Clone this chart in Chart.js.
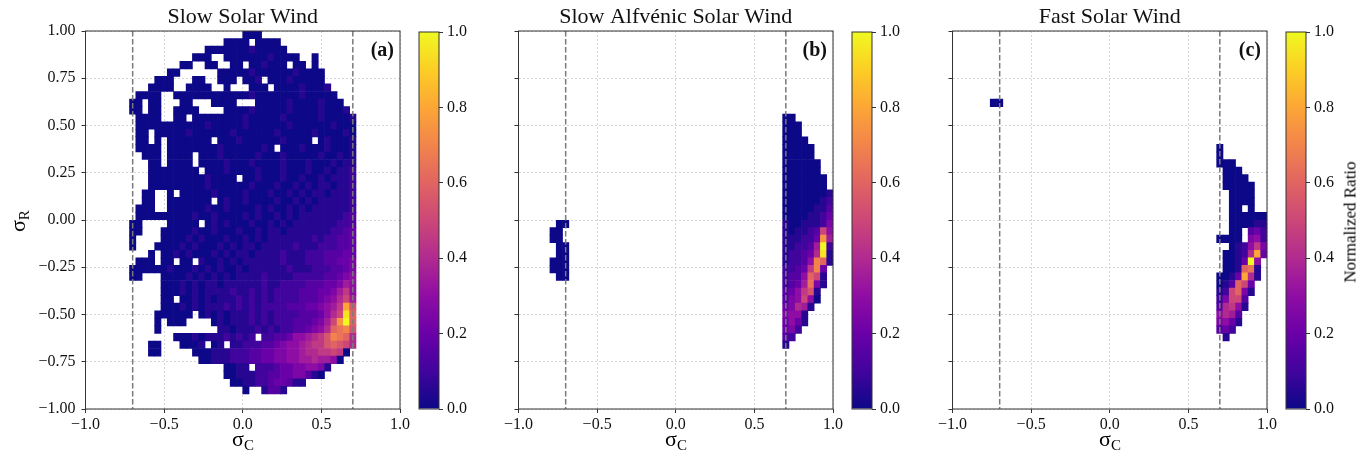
<!DOCTYPE html>
<html>
<head>
<meta charset="utf-8">
<script src="https://cdn.jsdelivr.net/npm/chart.js@4/dist/chart.umd.min.js"></script>
<style>
  body { margin: 0; background: #fff; width: 1368px; height: 457px; position: relative; overflow: hidden; font-family: "Liberation Serif", "DejaVu Serif", serif; color: #000; }
  canvas { position: absolute; left: 0; top: 0; }
  .xl { position: absolute; top: 428px; transform: translateX(-50%); font-size: 22px; line-height: 1; white-space: nowrap; }
  .xl sub, .yl sub { font-size: 15px; vertical-align: baseline; position: relative; top: 4px; }
  .yl { position: absolute; left: 18px; top: 221px; transform: translate(-50%, -50%) rotate(-90deg); font-size: 22px; line-height: 1; white-space: nowrap; }
  .cbl { position: absolute; left: 1350px; top: 222px; transform: translate(-50%, -50%) rotate(-90deg); font-size: 17px; line-height: 1; white-space: nowrap; color: #000; }
</style>
</head>
<body>
<canvas id="pa" width="1368" height="457"></canvas>
<canvas id="pb" width="1368" height="457"></canvas>
<canvas id="pc" width="1368" height="457"></canvas>
<canvas id="ca" width="1368" height="457"></canvas>
<canvas id="cb" width="1368" height="457"></canvas>
<canvas id="cc" width="1368" height="457"></canvas>
<div class="xl" style="left:243px">σ<sub>C</sub></div>
<div class="xl" style="left:676px">σ<sub>C</sub></div>
<div class="xl" style="left:1110px">σ<sub>C</sub></div>
<div class="yl">σ<sub>R</sub></div>
<div class="cbl">Normalized Ratio</div>
<script>
const titles = ["Slow Solar Wind", "Slow Alfvénic Solar Wind", "Fast Solar Wind"];
const panelTags = ["(a)", "(b)", "(c)"];
const xTicks = [-1, -0.5, 0, 0.5, 1];
const yTicks = [-1, -0.75, -0.5, -0.25, 0, 0.25, 0.5, 0.75, 1];
const cbTicks = [0, 0.2, 0.4, 0.6, 0.8, 1];
const cbRange = [0, 1];
const sigmaCut = [-0.7, 0.7];
const binWidth = 0.04;
// one char per bin, step 0.05 of normalized ratio, '.' = empty bin
const levels = "0123456789ABCDEFGHIJK";

// [row from top (y = 1 - 0.04*row), first column (x = -1 + 0.04*col), bins]
const slowRows = [
  [0, 25, "000"],
  [1, 22, "0000.0000"],
  [2, 19, "0000000100000"],
  [3, 17, "000..000000010000..0"],
  [4, 15, "00..00..00.001000.00.0"],
  [5, 13, "00......00000100000010000"],
  [6, 11, "000...00..000.001.000100000"],
  [7, 10, "0000..0000..0...000.000010001"],
  [8, 8, "0000..00000000000010000000100000"],
  [9, 7, "00.00...00...0000...00000100001000"],
  [10, 7, "00.00..0000....00001000001000010001"],
  [11, 8, "0000..00.00000000100000100000100001"],
  [12, 8, "00000000000100000100000010000001000"],
  [13, 8, "00.00000100000010000001000001000010"],
  [14, 8, "00.0.0000000.000100000010000.010001"],
  [15, 8, "0000.00000000100000010.000100010001"],
  [16, 9, "000.0000.0001000001000100000100101"],
  [17, 10, "00.0000.0000100010000100010001011"],
  [18, 10, "00000000.000100001000100010010112"],
  [19, 10, "00000000010000.001000100100101112"],
  [20, 10, "000000000100000010001001010110112"],
  [21, 9, "00..0.0000010000100010010101101112"],
  [22, 9, "00..0000000.0100100001001010111112"],
  [23, 8, "000..000000100100001010010101111112"],
  [24, 8, "00000000010010000101001010111111123"],
  [25, 7, "00....00000.010100010010101111111223"],
  [26, 7, "00...0000010010001001011011111112234"],
  [27, 7, "0....0000101000100101011111112122334"],
  [28, 7, "0...00001010001010110111112111222334"],
  [29, 10, "0.0010100010101101111211122233344"],
  [30, 8, "000.00.00.1001010111111211122233445"],
  [31, 7, "000000100010101001011111121112223345"],
  [32, 7, "00...0000101010101111211112222233456"],
  [33, 12, "0001010110111111211222233344576"],
  [34, 12, "0001010111121121212222333445796"],
  [35, 12, "00.00101011121212122223334568A7"],
  [36, 12, "00010101112121212222333445679GB"],
  [37, 11, "000000.0101011121212222333468AJC"],
  [38, 11, "0.000....0101112121222333457AFKC"],
  [39, 11, "0.........110111212122334568CDEB"],
  [40, 14, "0001011121212.2233466789BEDC8"],
  [41, 10, "00...0001.01.112223345667899BCBA8"],
  [42, 10, "00.....0001112223344556678899A90"],
  [43, 18, "00111222334455667787760"],
  [44, 22, "0011.222344556651"],
  [45, 22, "0011122334455310"],
  [46, 23, "001122344311"],
  [47, 25, "0..1331"]
];

const alfvenicRows = [
  [11, 42, "00"],
  [12, 42, "000"],
  [13, 42, "000"],
  [14, 42, "0000"],
  [15, 42, "00000"],
  [16, 42, "00000"],
  [17, 42, "000000"],
  [18, 42, "000000"],
  [19, 42, "0000000"],
  [20, 42, "0000000"],
  [21, 42, "00000001"],
  [22, 42, "00000012"],
  [23, 42, "00000113"],
  [24, 42, "00001124"],
  [25, 42, "10011125"],
  [26, 42, "101123A6"],
  [27, 42, "111224F7"],
  [28, 42, "112237K2"],
  [29, 42, "122348J1"],
  [30, 42, "12236EC1"],
  [31, 42, "22349E4"],
  [32, 42, "2336CA1"],
  [33, 42, "2347D51"],
  [34, 42, "3469B1"],
  [35, 42, "356A60"],
  [36, 42, "45871"],
  [37, 42, "5661"],
  [38, 42, "4641"],
  [39, 42, "452"],
  [40, 42, "32"],
  [41, 42, "1"],
  [25, 6, "00"],
  [26, 5, "00"],
  [27, 5, "00"],
  [28, 6, "00"],
  [29, 6, "00"],
  [30, 5, "000"],
  [31, 5, "000"],
  [32, 6, "00"]
];

const fastRows = [
  [9, 6, "00"],
  [15, 42, "0"],
  [16, 42, "0"],
  [17, 42, "000"],
  [18, 43, "000"],
  [19, 43, "0000"],
  [20, 43, "00000"],
  [21, 44, "0000"],
  [22, 44, "0000"],
  [23, 44, "00.0"],
  [24, 44, "000000"],
  [25, 44, "000011"],
  [26, 44, "00.342"],
  [27, 42, "0000.562"],
  [28, 44, "012695"],
  [29, 43, "00128G4"],
  [30, 43, "0014K6"],
  [31, 43, "001CD1"],
  [32, 42, "0014G81"],
  [33, 42, "013CA4"],
  [34, 42, "12AC51"],
  [35, 42, "25AA3"],
  [36, 42, "38961"],
  [37, 42, "6873"],
  [38, 42, "5641"],
  [39, 42, "342"],
  [40, 43, "1"]
];

const W = 1368;
const plotLeft = [85.5, 518.5, 952.5];
const plotW = 314.5;
const cbLeft = [419, 852, 1286];
const serif = "'Liberation Serif', 'DejaVu Serif', serif";

const plasmaStops = ["#0d0887", "#41049d", "#6a00a8", "#8f0da4", "#b12a90", "#cc4778",
  "#e16462", "#f2844b", "#fca636", "#fcce25", "#f0f921"];

function hex(c) {
  return [1, 3, 5].map(k => parseInt(c.slice(k, k + 2), 16));
}
function plasma(t) {
  t = Math.max(0, Math.min(1, t));
  const p = t * (plasmaStops.length - 1);
  const k = Math.min(plasmaStops.length - 2, Math.floor(p));
  const f = p - k;
  const a = hex(plasmaStops[k]), b = hex(plasmaStops[k + 1]);
  const m = a.map((v, n) => Math.round(v + (b[n] - v) * f));
  return `rgb(${m[0]},${m[1]},${m[2]})`;
}

function toCells(rows) {
  const out = [];
  rows.forEach(([r, c0, s]) => {
    [...s].forEach((ch, n) => {
      if (ch === ".") return;
      const x0 = -1 + binWidth * (c0 + n);
      const top = 1 - binWidth * r;
      out.push({
        x: +(x0 + binWidth / 2).toFixed(3),
        y: [+(top - binWidth).toFixed(3), +top.toFixed(3)],
        v: levels.indexOf(ch) * 0.05
      });
    });
  });
  return out;
}

const fmt = d => v => (v < -1e-9 ? "\u2212" : "") + Math.abs(v).toFixed(d);

const panelDecor = {
  id: "panelDecor",
  afterDatasetsDraw(chart) {
    const { ctx, chartArea: a, scales: { x } } = chart;
    ctx.save();
    ctx.strokeStyle = "#7a7a7a";
    ctx.lineWidth = 1.5;
    ctx.setLineDash([5.5, 2.5]);
    sigmaCut.forEach(v => {
      const px = x.getPixelForValue(v);
      ctx.beginPath();
      ctx.moveTo(px, a.top);
      ctx.lineTo(px, a.bottom);
      ctx.stroke();
    });
    ctx.restore();
  },
  afterDraw(chart, args, opts) {
    const { ctx, chartArea: a } = chart;
    ctx.save();
    ctx.strokeStyle = "#333";
    ctx.lineWidth = 1;
    ctx.strokeRect(a.left, a.top, a.right - a.left, a.bottom - a.top);
    if (opts.tag) {
      ctx.fillStyle = "#111";
      ctx.font = "bold 20px " + serif;
      ctx.textAlign = "right";
      ctx.textBaseline = "alphabetic";
      ctx.fillText(opts.tag, a.right - 6, a.top + 25);
    }
    ctx.restore();
  }
};

function makePanel(id, rows, k) {
  const left = plotLeft[k];
  const yW = k === 0 ? left : 40;
  new Chart(document.getElementById(id), {
    type: "bar",
    data: {
      datasets: [{
        label: titles[k],
        data: toCells(rows),
        backgroundColor: c => plasma(c.raw ? c.raw.v : 0),
        borderWidth: 0,
        barPercentage: 1,
        categoryPercentage: 1,
        grouped: false
      }]
    },
    options: {
      responsive: false,
      animation: false,
      events: [],
      layout: { padding: { left: left - yW, right: W - left - plotW, top: 0, bottom: 0 } },
      plugins: {
        legend: { display: false },
        tooltip: { enabled: false },
        title: {
          display: true, text: titles[k], fullSize: false, color: "#111",
          font: { family: serif, size: 22, weight: "normal", lineHeight: 1.2 },
          padding: { top: 4, bottom: 0.6 }
        },
        panelDecor: { tag: panelTags[k] }
      },
      scales: {
        x: {
          type: "linear", min: -1, max: 1, offset: false, z: 1,
          afterBuildTicks: s => { s.ticks = xTicks.map(v => ({ value: v })); },
          afterFit: s => { s.height = 48; },
          ticks: { callback: fmt(1), color: "#111", font: { family: serif, size: 16 }, padding: 2, maxRotation: 0, autoSkip: false },
          grid: { offset: false, color: "#cdcdcd", lineWidth: 0.8, tickLength: 4, tickColor: "#333", tickWidth: 1 },
          border: { display: false, dash: [2, 2] }
        },
        y: {
          type: "linear", min: -1, max: 1, z: 1,
          afterBuildTicks: s => { s.ticks = yTicks.map(v => ({ value: v })); },
          afterFit: s => { s.width = yW; },
          ticks: { display: k === 0, callback: fmt(2), color: "#111", font: { family: serif, size: 16 }, padding: 6 },
          grid: { color: "#cdcdcd", lineWidth: 0.8, tickLength: 4, tickColor: "#333", tickWidth: 1 },
          border: { display: false, dash: [2, 2] }
        }
      }
    },
    plugins: [panelDecor]
  });
}

const cbFrame = {
  id: "cbFrame",
  afterDraw(chart) {
    const { ctx, chartArea: a } = chart;
    ctx.save();
    ctx.strokeStyle = "#333";
    ctx.lineWidth = 1;
    ctx.strokeRect(a.left, a.top, a.right - a.left, a.bottom - a.top);
    ctx.restore();
  }
};

function makeColorbar(id, k) {
  const left = cbLeft[k];
  new Chart(document.getElementById(id), {
    type: "bar",
    data: {
      labels: ["Normalized Ratio"],
      datasets: [{
        data: [cbRange],
        backgroundColor: c => {
          const a = c.chart.chartArea;
          if (!a) return plasmaStops[0];
          const g = c.chart.ctx.createLinearGradient(0, a.bottom, 0, a.top);
          plasmaStops.forEach((col, n) => g.addColorStop(n / (plasmaStops.length - 1), col));
          return g;
        },
        borderWidth: 0, barPercentage: 1, categoryPercentage: 1, inflateAmount: 0
      }]
    },
    options: {
      responsive: false,
      animation: false,
      events: [],
      layout: { padding: { left: left, right: W - left - 20 - 40, top: 32, bottom: 48 } },
      plugins: { legend: { display: false }, tooltip: { enabled: false } },
      scales: {
        x: { display: false },
        y: {
          position: "right", min: 0, max: 1,
          afterBuildTicks: s => { s.ticks = cbTicks.map(v => ({ value: v })); },
          afterFit: s => { s.width = 40; },
          ticks: { callback: v => v.toFixed(1), color: "#111", font: { family: serif, size: 16 }, padding: 4 },
          grid: { drawOnChartArea: false, tickLength: 4, tickColor: "#333", tickWidth: 1 },
          border: { display: false }
        }
      }
    },
    plugins: [cbFrame]
  });
}

makePanel("pa", slowRows, 0);
makePanel("pb", alfvenicRows, 1);
makePanel("pc", fastRows, 2);
makeColorbar("ca", 0);
makeColorbar("cb", 1);
makeColorbar("cc", 2);
</script>
</body>
</html>
